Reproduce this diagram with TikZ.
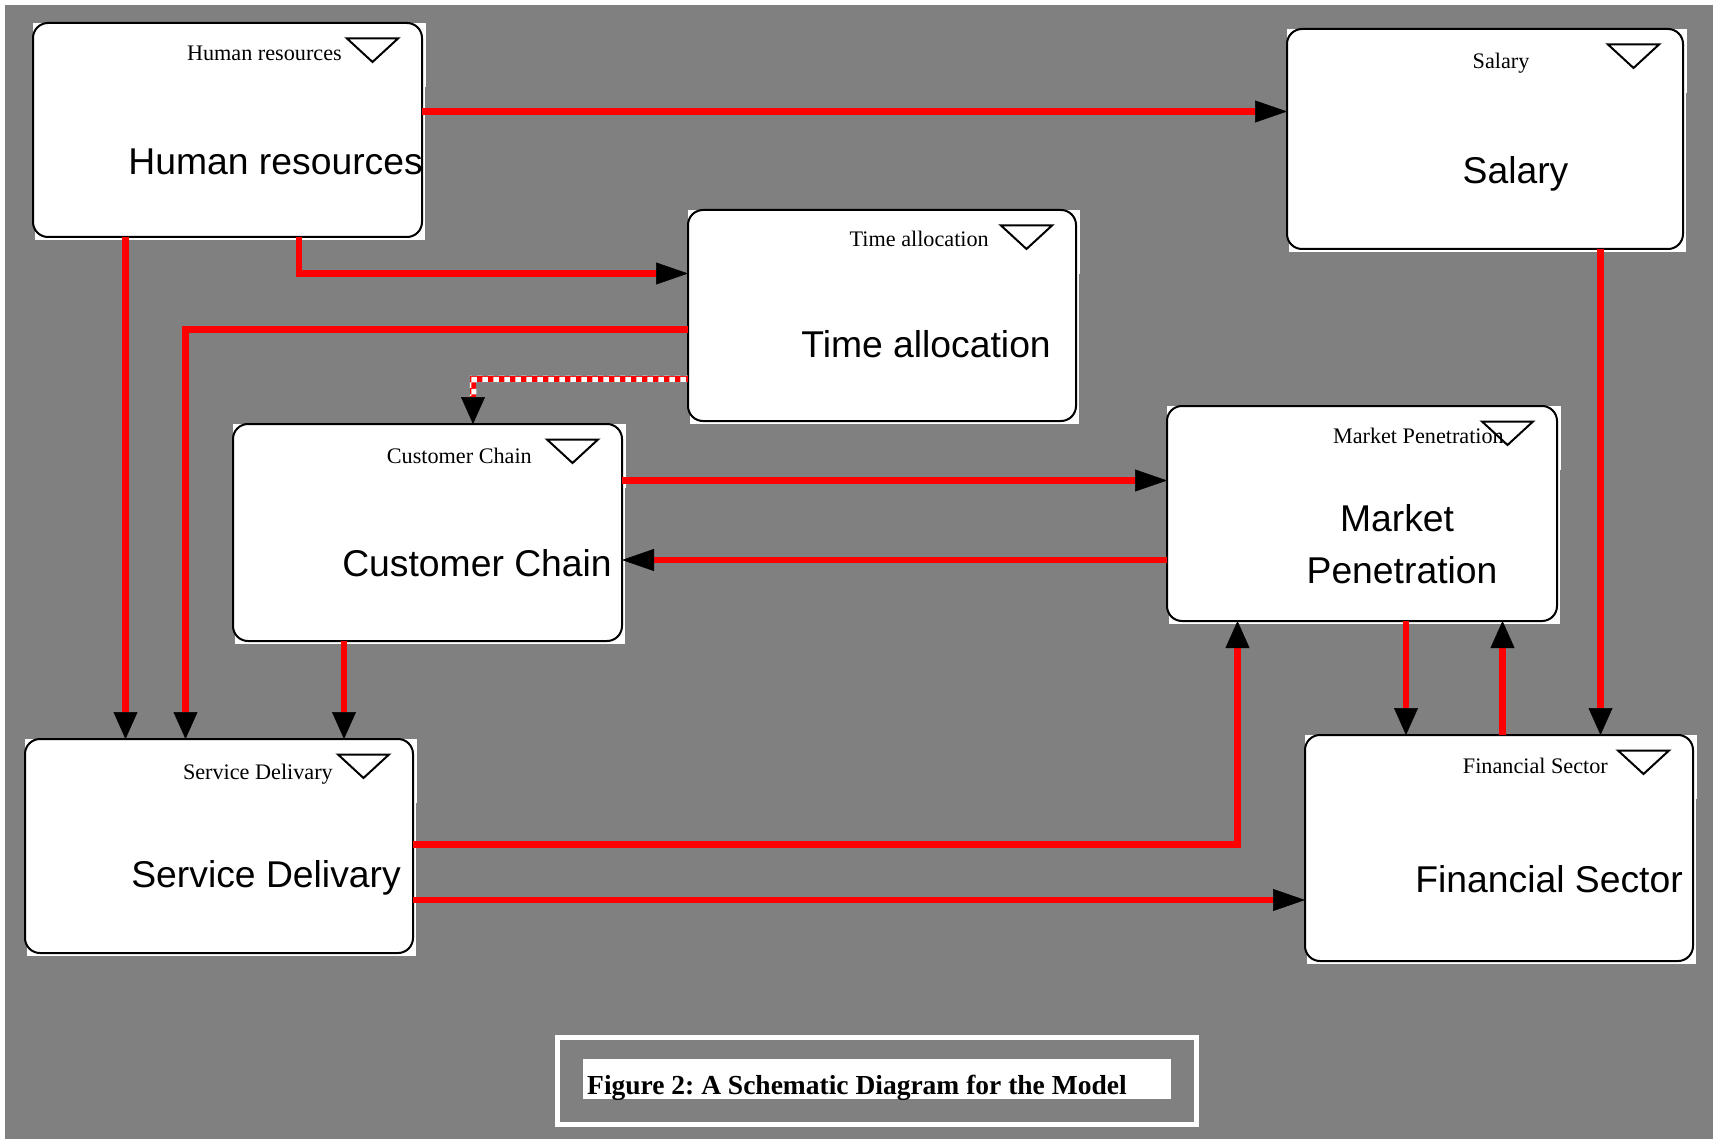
\documentclass[tikz,border=0pt]{standalone}
\usepackage{fontspec}
\setmainfont{Liberation Serif}
\newfontfamily\labelsans{Liberation Sans}
\usetikzlibrary{arrows.meta,calc,patterns}
\definecolor{canvasgray}{HTML}{808080}
\definecolor{linkred}{HTML}{FF0000}
\frenchspacing

\tikzset{
  modframe/.style={draw=black, line width=2pt, fill=white, rounded corners=15pt,
                   inner sep=0pt, outer sep=0pt},
  menutri/.style={draw=black, line width=2pt, fill=white, line join=miter},
  boxtag/.style={inner sep=0pt, font=\fontsize{22.2}{26}\selectfont},
  boxtitle/.style={inner sep=0pt, font=\labelsans\fontsize{37.3}{44}\selectfont},
  redlink/.style={draw=linkred, line width=6.5pt},
  hlink/.style={redlink, arrows={-{Triangle[length=32pt,width=22pt,line width=0.5pt,color=black]}}},
  vlink/.style={redlink, arrows={-{Triangle[length=27pt,width=24pt,line width=0.5pt,color=black]}}},
}

% module box: name, left, top, right, bottom (pixel-style coordinates, y downwards)
\newcommand\modulebox[5]{%
  \fill[white] (#2,#3) rectangle (#4+4,#3+64);
  \fill[white] (#2+2,#3+64) rectangle (#4+3,#5+3);
  \node[modframe, minimum width={#4-#2}, minimum height={#5-#3}] (#1)
       at ({(#2+#4)/2},{(#3+#5)/2}) {};
  \draw[menutri] ($(#1.north east)+(-75,15.5)$) -- ++(51,0) -- ++(-25.5,23.5) -- cycle;
}

\begin{document}
\begin{tikzpicture}[x=1pt,y=-1pt]
  \useasboundingbox (0,0) rectangle (1713,1139);
  \fill[white] (0,0) rectangle (1713,1139);
  \fill[canvasgray] (5,5) rectangle (1713,1139);

  % modules
  \modulebox{hr}{33}{23}{422}{237}
  \modulebox{sal}{1287}{29}{1683}{249}
  \modulebox{ta}{688}{210}{1076}{421}
  \modulebox{cc}{233}{424}{622}{641}
  \modulebox{mp}{1167}{406}{1557}{621}
  \modulebox{sd}{25}{739}{413}{953}
  \modulebox{fs}{1305}{735}{1693}{961}

  % small tags
  \node[boxtag, anchor=base east] (hrtag)  at (342,61)   {Human resources};
  \node[boxtag, anchor=base]      (saltag) at (1501,69)  {Salary};
  \node[boxtag, anchor=base east] (tatag)  at (989,247)  {Time allocation};
  \node[boxtag, anchor=base east] (cctag)  at (532,463)  {Customer Chain};
  \node[boxtag, anchor=base east] (mptag)  at (1504,443) {Market Penetration};
  \node[boxtag, anchor=base east] (sdtag)  at (333,779)  {Service Delivary};
  \node[boxtag, anchor=base east] (fstag)  at (1608,773) {Financial Sector};

  % titles
  \node[boxtitle, anchor=base east] (hrtitle)  at (423,175)  {Human resources};
  \node[boxtitle, anchor=base]      (saltitle) at (1515.5,184) {Salary};
  \node[boxtitle, anchor=base east] (tatitle)  at (1051,358) {Time allocation};
  \node[boxtitle, anchor=base east] (cctitle)  at (612,576)  {Customer Chain};
  \node[boxtitle, anchor=base]      (mptitle1) at (1397,531) {Market};
  \node[boxtitle, anchor=base]      (mptitle2) at (1402,583) {Penetration};
  \node[boxtitle, anchor=base east] (sdtitle)  at (401,887)  {Service Delivary};
  \node[boxtitle, anchor=base east] (fstitle)  at (1683,892) {Financial Sector};

  % links
  \draw[hlink] (hr.east |- 0,111.5) -- (sal.west |- 0,111.5);
  \draw[hlink] (hr.south -| 299,0) |- (ta.west |- 0,273.5);
  \draw[vlink] (hr.south -| 125.5,0) -- (sd.north -| 125.5,0);
  \draw[vlink] (ta.west |- 0,329.5) -| (sd.north -| 185.5,0);
  \draw[vlink] (ta.west |- 0,379) -| (cc.north -| 473,0);
  \fill[pattern=checkerboard, pattern color=white]
       (469.75,375.75) rectangle (688,382.25)
       (469.75,382.25) rectangle (476.25,396);
  \draw[hlink] (cc.east |- 0,480.5) -- (mp.west |- 0,480.5);
  \draw[hlink] (mp.west |- 0,560) -- (cc.east |- 0,560);
  \draw[vlink] (cc.south -| 344,0) -- (sd.north -| 344,0);
  \draw[vlink] (sd.east |- 0,844.5) -| (mp.south -| 1237.5,0);
  \draw[hlink] (sd.east |- 0,900) -- (fs.west |- 0,900);
  \draw[vlink] (mp.south -| 1406,0) -- (fs.north -| 1406,0);
  \draw[vlink] (fs.north -| 1502.5,0) -- (mp.south -| 1502.5,0);
  \draw[vlink] (sal.south -| 1600.5,0) -- (fs.north -| 1600.5,0);

  % caption
  \draw[white, line width=5pt] (557.5,1037.5) rectangle (1196.5,1124.5);
  \fill[white] (582.5,1059) rectangle (1171,1099);
  \node[inner sep=0pt, anchor=base west, font=\bfseries\fontsize{27.5}{32}\selectfont]
       (caption) at (587,1094) {Figure 2: A Schematic Diagram for the Model};
\end{tikzpicture}
\end{document}
